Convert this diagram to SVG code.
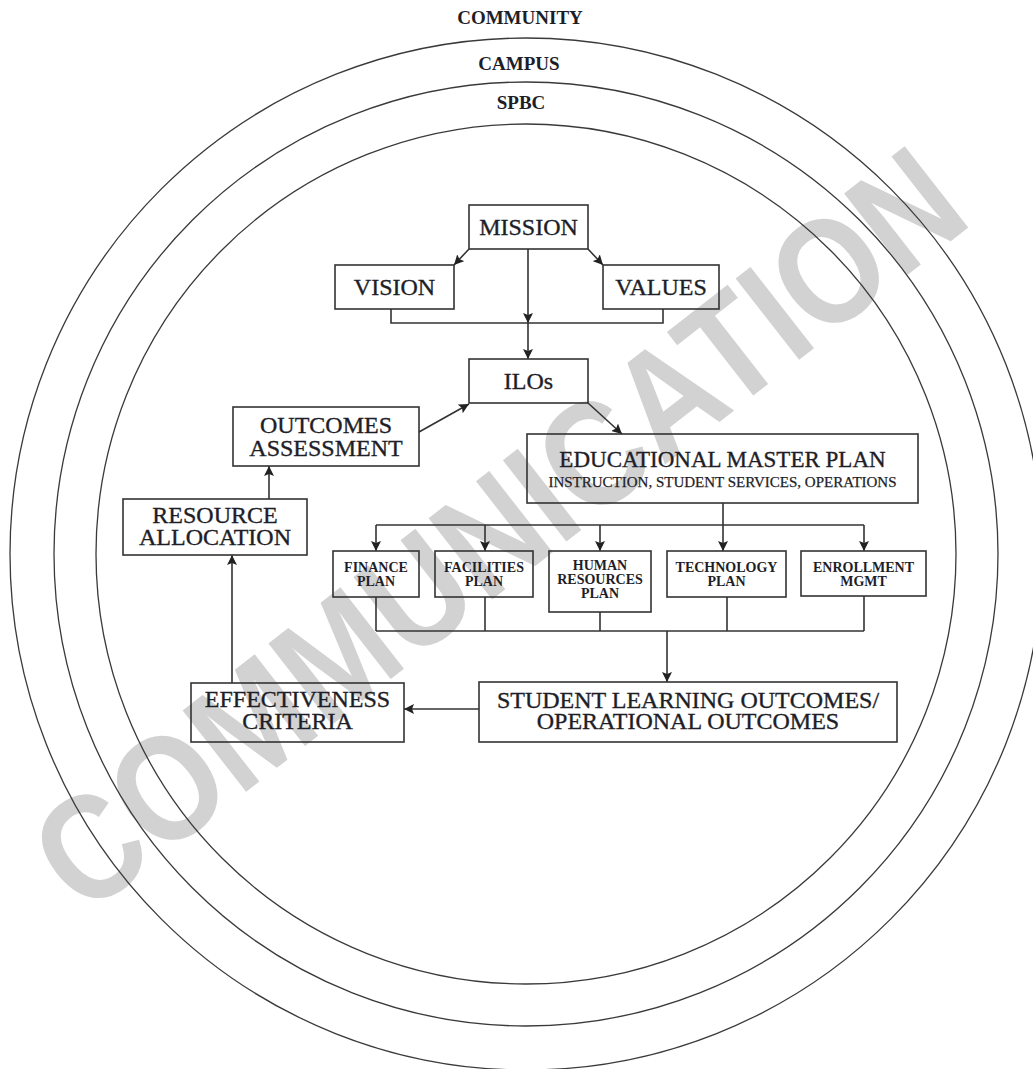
<svg xmlns="http://www.w3.org/2000/svg" width="1033" height="1069" viewBox="0 0 1033 1069">
<defs>
<style>
.ring{fill:none;stroke:#3a3a3a;stroke-width:1.3}
.box{fill:none;stroke:#333;stroke-width:1.6}
.ln{fill:none;stroke:#333;stroke-width:1.6}
.t{font-family:"Liberation Serif","Times New Roman",serif;fill:#1e1e28;text-anchor:middle}
.lg{font-size:24px;stroke:#1e1e28;stroke-width:0.35}
.md{font-size:23px;stroke:#1e1e28;stroke-width:0.35}
.sub{font-size:15px;stroke:#1e1e28;stroke-width:0.25}
.sm{font-size:14px;font-weight:bold}
.top{font-size:19px;font-weight:bold}
.wm{font-family:"Liberation Sans",Arial,sans-serif;font-weight:bold;font-size:150px;fill:#d2d2d2;text-anchor:middle}
</style>
<marker id="ah" viewBox="0 0 10 10" refX="10" refY="5" markerWidth="10" markerHeight="10" markerUnits="userSpaceOnUse" orient="auto">
<path d="M0,0 L10,5 L0,10 L2,5 z" fill="#222"/>
</marker>
</defs>
<rect width="1033" height="1069" fill="#fff"/>
<text class="wm" transform="translate(530,570) rotate(-38)" textLength="1130" lengthAdjust="spacingAndGlyphs">COMMUNICATION</text>
<g id="rings">
<circle class="ring" cx="526" cy="554" r="516"/>
<circle class="ring" cx="526" cy="554" r="472"/>
<circle class="ring" cx="526" cy="554" r="430"/>
<text class="t top" x="520" y="24">COMMUNITY</text>
<text class="t top" x="519" y="70">CAMPUS</text>
<text class="t top" x="521" y="109">SPBC</text>
</g>
<g id="connectors">
<line class="ln" x1="469" y1="249" x2="454" y2="265" marker-end="url(#ah)"/>
<line class="ln" x1="588" y1="249" x2="603" y2="265" marker-end="url(#ah)"/>
<line class="ln" x1="528" y1="249" x2="528" y2="323" marker-end="url(#ah)"/>
<polyline class="ln" points="391,309 391,323 663,323 663,309"/>
<line class="ln" x1="528" y1="323" x2="528" y2="359" marker-end="url(#ah)"/>
<line class="ln" x1="588" y1="403" x2="622" y2="434" marker-end="url(#ah)"/>
<line class="ln" x1="419" y1="432" x2="469" y2="404" marker-end="url(#ah)"/>
<line class="ln" x1="723" y1="503" x2="723" y2="525"/>
<line class="ln" x1="376" y1="525" x2="864" y2="525"/>
<line class="ln" x1="376" y1="525" x2="376" y2="551" marker-end="url(#ah)"/>
<line class="ln" x1="485" y1="525" x2="485" y2="551" marker-end="url(#ah)"/>
<line class="ln" x1="600" y1="525" x2="600" y2="551" marker-end="url(#ah)"/>
<line class="ln" x1="723" y1="525" x2="723" y2="551" marker-end="url(#ah)"/>
<line class="ln" x1="864" y1="525" x2="864" y2="551" marker-end="url(#ah)"/>
<line class="ln" x1="376" y1="597" x2="376" y2="631"/>
<line class="ln" x1="485" y1="597" x2="485" y2="631"/>
<line class="ln" x1="600" y1="612" x2="600" y2="631"/>
<line class="ln" x1="727" y1="597" x2="727" y2="631"/>
<line class="ln" x1="864" y1="596" x2="864" y2="631"/>
<line class="ln" x1="376" y1="631" x2="864" y2="631"/>
<line class="ln" x1="667" y1="631" x2="667" y2="682" marker-end="url(#ah)"/>
<line class="ln" x1="479" y1="709" x2="404" y2="709" marker-end="url(#ah)"/>
<line class="ln" x1="232" y1="683" x2="232" y2="555" marker-end="url(#ah)"/>
<line class="ln" x1="269" y1="499" x2="269" y2="466" marker-end="url(#ah)"/>
</g>
<g id="mission"><rect class="box" x="469" y="205" width="119" height="44"/><text class="t lg" x="528.5" y="235">MISSION</text></g>
<g id="vision"><rect class="box" x="335" y="265" width="119" height="44"/><text class="t lg" x="394.5" y="295">VISION</text></g>
<g id="values"><rect class="box" x="603" y="265" width="116" height="44"/><text class="t lg" x="661" y="295">VALUES</text></g>
<g id="ilos"><rect class="box" x="469" y="359" width="119" height="44"/><text class="t lg" x="528.5" y="389">ILOs</text></g>
<g id="outcomes-assessment"><rect class="box" x="233" y="407" width="186" height="59"/><text class="t lg" x="326" y="433">OUTCOMES</text><text class="t lg" x="326" y="456">ASSESSMENT</text></g>
<g id="emp"><rect class="box" x="527" y="434" width="391" height="69"/><text class="t md" x="722.5" y="467">EDUCATIONAL MASTER PLAN</text><text class="t sub" x="722.5" y="487">INSTRUCTION, STUDENT SERVICES, OPERATIONS</text></g>
<g id="resource-allocation"><rect class="box" x="123" y="499" width="184" height="56"/><text class="t lg" x="215" y="523">RESOURCE</text><text class="t lg" x="215" y="545">ALLOCATION</text></g>
<g id="finance"><rect class="box" x="333" y="551" width="86" height="46"/><text class="t sm" x="376" y="572">FINANCE</text><text class="t sm" x="376" y="586">PLAN</text></g>
<g id="facilities"><rect class="box" x="435" y="551" width="98" height="46"/><text class="t sm" x="484" y="572">FACILITIES</text><text class="t sm" x="484" y="586">PLAN</text></g>
<g id="human-resources"><rect class="box" x="549" y="551" width="102" height="61"/><text class="t sm" x="600" y="570">HUMAN</text><text class="t sm" x="600" y="584">RESOURCES</text><text class="t sm" x="600" y="598">PLAN</text></g>
<g id="technology"><rect class="box" x="667" y="551" width="119" height="46"/><text class="t sm" x="726.5" y="572">TECHNOLOGY</text><text class="t sm" x="726.5" y="586">PLAN</text></g>
<g id="enrollment"><rect class="box" x="801" y="551" width="125" height="45"/><text class="t sm" x="863.5" y="572">ENROLLMENT</text><text class="t sm" x="863.5" y="586">MGMT</text></g>
<g id="effectiveness"><rect class="box" x="191" y="683" width="213" height="59"/><text class="t lg" x="297.5" y="707">EFFECTIVENESS</text><text class="t lg" x="297.5" y="729">CRITERIA</text></g>
<g id="slo"><rect class="box" x="479" y="682" width="418" height="60"/><text class="t lg" x="688" y="708">STUDENT LEARNING OUTCOMES/</text><text class="t lg" x="688" y="729">OPERATIONAL OUTCOMES</text></g>
</svg>
